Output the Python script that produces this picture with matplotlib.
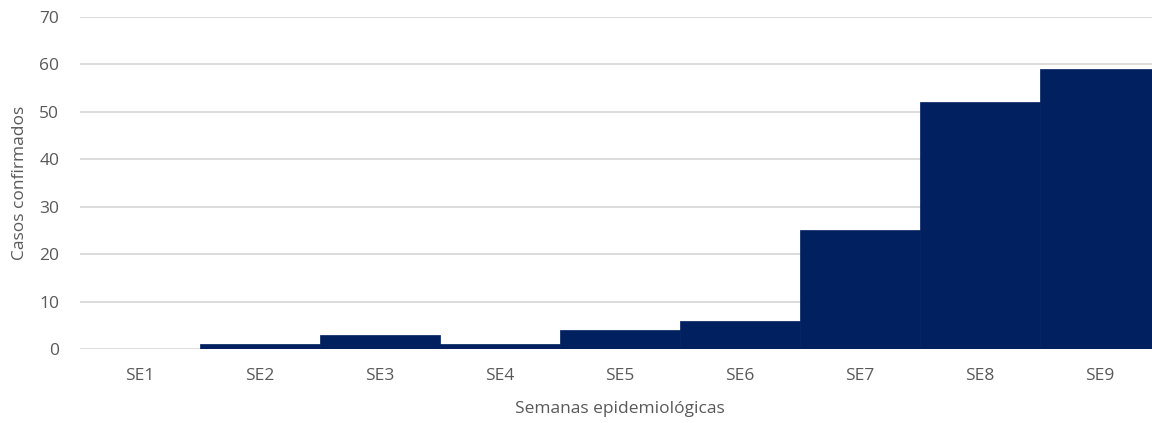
import matplotlib
matplotlib.use("Agg")
import matplotlib.pyplot as plt

# datos
semanas = ["SE1", "SE2", "SE3", "SE4", "SE5", "SE6", "SE7", "SE8", "SE9"]
casos = [0, 1, 3, 1, 4, 6, 25, 52, 59]

plt.rcParams['font.family'] = ['Open Sans', 'DejaVu Sans']

fig = plt.figure(figsize=(11.52, 4.23), dpi=100)
# el eje se sale un poco por la derecha, como en el original
ax = fig.add_axes([80 / 1152, 0.175, 1080 / 1152, 0.785])

x = range(len(semanas))
ax.bar(x, casos, width=1.0, color='#002060', edgecolor='#002060', linewidth=0.5, zorder=3)

ax.set_xlim(-0.5, len(semanas) - 0.5)
ax.set_ylim(0, 70)
ax.set_yticks(range(0, 71, 10))
ax.set_xticks(list(x))
ax.set_xticklabels(semanas)
ax.grid(axis='y', color='#d9d9d9', linewidth=1.3, zorder=0)
ax.tick_params(length=0, labelsize=12.5, colors='#595959', pad=14)
ax.tick_params(axis='y', pad=15)
for s in ax.spines.values():
    s.set_visible(False)

ax.set_xlabel('Semanas epidemiológicas', fontsize=12.5, color='#595959', labelpad=12)
ax.set_ylabel('Casos confirmados', fontsize=12.5, color='#595959', labelpad=8)

fig.savefig('out.png', dpi=100)
